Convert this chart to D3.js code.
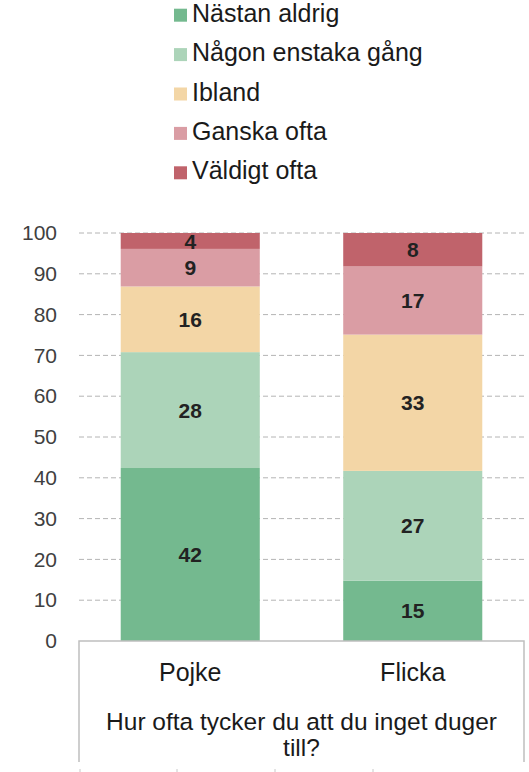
<!DOCTYPE html>
<html>
<head>
<meta charset="utf-8">
<script src="https://cdn.jsdelivr.net/npm/d3@7"></script>
<style>
  body { margin: 0; background: #fff; }
  text { font-family: "Liberation Sans", Arial, sans-serif; }
</style>
</head>
<body>
<script>
const categories = ["Pojke", "Flicka"];
const seriesNames = ["Nästan aldrig", "Någon enstaka gång", "Ibland", "Ganska ofta", "Väldigt ofta"];
const seriesColors = ["#74b98f", "#acd4b9", "#f3d6a6", "#da9da4", "#c0636b"];
// values per series, in category order
const nastanAldrig = [42.4, 14.8];
const nagonEnstaka = [28.4, 26.9];
const ibland = [16.1, 33.4];
const ganskaOfta = [9.2, 16.7];
const valdigtOfta = [3.9, 8.2];
const yTicks = [0, 10, 20, 30, 40, 50, 60, 70, 80, 90, 100];
const question = ["Hur ofta tycker du att du inget duger", "till?"];

const seriesValues = [nastanAldrig, nagonEnstaka, ibland, ganskaOfta, valdigtOfta];
const rows = categories.map((c, i) => {
    const r = {cat: c};
    seriesNames.forEach((s, j) => r[s] = seriesValues[j][i]);
    return r;
});
const stacked = d3.stack().keys(seriesNames)(rows);

const svgWidth = 529, svgHeight = 772;
const plotLeft = 79, plotRight = 524, plotTop = 233, plotBottom = 641;

const svg = d3.select("body").append("svg")
    .attr("width", svgWidth)
    .attr("height", svgHeight);

const x = d3.scaleBand()
    .domain(categories)
    .range([plotLeft, plotRight])
    .paddingInner(0.375)
    .paddingOuter(0.1875);

const y = d3.scaleLinear()
    .domain([0, 100])
    .range([plotBottom, plotTop]);

const color = d3.scaleOrdinal().domain(seriesNames).range(seriesColors);

// grid lines
svg.append("g")
    .selectAll("line")
    .data(yTicks.filter(t => t > 0))
    .enter()
    .append("line")
    .attr("x1", plotLeft).attr("x2", plotRight)
    .attr("y1", d => y(d)).attr("y2", d => y(d))
    .attr("stroke", "#b4b4b4")
    .attr("stroke-width", 1)
    .attr("stroke-dasharray", "5,3");

// y axis labels
const yAxis = svg.append("g")
    .attr("transform", `translate(${plotLeft}, 0)`)
    .call(d3.axisLeft(y).tickValues(yTicks).tickSize(0).tickPadding(22));
yAxis.select(".domain").remove();
yAxis.selectAll("text")
    .attr("font-size", "21px")
    .attr("fill", "#404040")
    .style("font-family", "'Liberation Sans', Arial, sans-serif");

// bars
const layers = svg.append("g")
    .selectAll("g")
    .data(stacked)
    .enter()
    .append("g")
    .attr("fill", d => color(d.key));

layers.selectAll("rect")
    .data(d => d)
    .enter()
    .append("rect")
    .attr("x", d => x(d.data.cat))
    .attr("y", d => y(d[1]))
    .attr("width", x.bandwidth())
    .attr("height", d => y(d[0]) - y(d[1]));

// value labels
layers.selectAll("text")
    .data(d => d)
    .enter()
    .append("text")
    .attr("x", d => x(d.data.cat) + x.bandwidth() / 2)
    .attr("y", d => (y(d[0]) + y(d[1])) / 2)
    .attr("dy", "0.36em")
    .attr("text-anchor", "middle")
    .attr("font-size", "21px")
    .attr("font-weight", "bold")
    .attr("fill", "#222")
    .text(d => Math.round(d[1] - d[0]));

// axis box
svg.append("path")
    .attr("d", `M${plotLeft},762 V${plotBottom} H${plotRight} V762`)
    .attr("fill", "none")
    .attr("stroke", "#bfbfbf")
    .attr("stroke-width", 1.5);

// category labels
const xAxis = svg.append("g")
    .attr("transform", `translate(0, ${plotBottom})`)
    .call(d3.axisBottom(x).tickSize(0).tickPadding(22));
xAxis.select(".domain").remove();
xAxis.selectAll("text")
    .attr("font-size", "25px")
    .attr("fill", "#1a1a1a")
    .style("font-family", "'Liberation Sans', Arial, sans-serif");

// question title
svg.append("text")
    .attr("x", (plotLeft + plotRight) / 2)
    .attr("y", 730)
    .attr("text-anchor", "middle")
    .attr("font-size", "24.5px")
    .attr("fill", "#1a1a1a")
    .selectAll("tspan")
    .data(question)
    .enter()
    .append("tspan")
    .attr("x", (plotLeft + plotRight) / 2)
    .attr("dy", (d, i) => i === 0 ? 0 : 26)
    .text(d => d);

// little marks at the bottom edge
svg.append("g")
    .selectAll("line")
    .data([80, 177, 275, 373])
    .enter()
    .append("line")
    .attr("x1", d => d).attr("x2", d => d)
    .attr("y1", 769).attr("y2", 772)
    .attr("stroke", "#c8c8c8");

// legend
const legend = svg.append("g")
    .selectAll("g")
    .data(seriesNames)
    .enter()
    .append("g")
    .attr("transform", (d, i) => `translate(174, ${21.7 + i * 39.4})`);

legend.append("rect")
    .attr("x", 0).attr("y", -13)
    .attr("width", 13).attr("height", 13)
    .attr("fill", d => color(d));

legend.append("text")
    .attr("x", 18)
    .attr("y", 0)
    .attr("font-size", "25px")
    .attr("fill", "#1a1a1a")
    .text(d => d);
</script>
</body>
</html>
